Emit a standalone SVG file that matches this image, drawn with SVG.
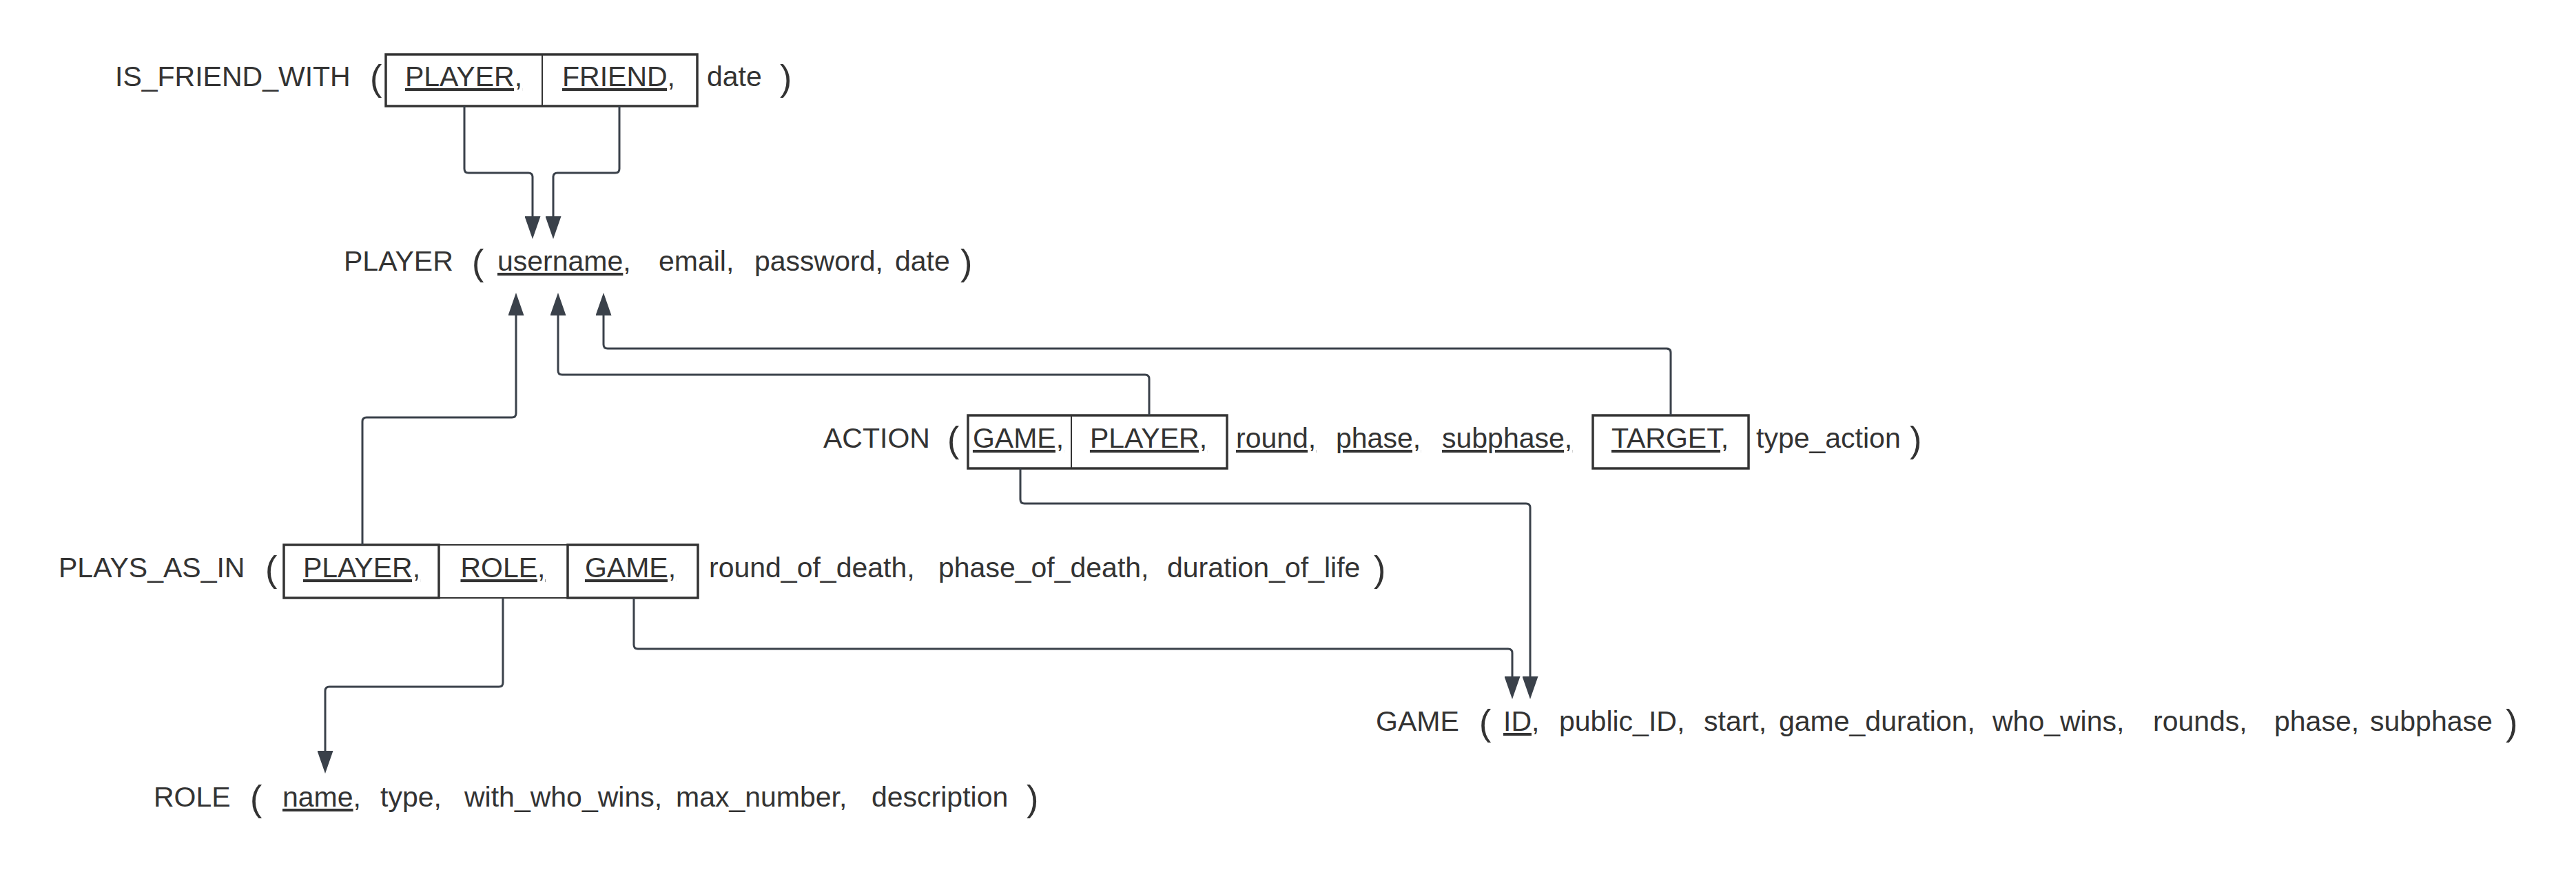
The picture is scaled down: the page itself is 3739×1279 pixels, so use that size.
<svg xmlns="http://www.w3.org/2000/svg" width="3739" height="1279" viewBox="0 0 3739 1279">
<style>
text{font-family:"Liberation Sans",Arial,sans-serif;font-size:41px;fill:#333333}
.p{font-size:52px}
.m{text-anchor:middle}
.u{text-decoration:underline}
.box{fill:none;stroke:#333333;stroke-width:3.5}
.div{fill:none;stroke:#333333;stroke-width:2}
.thin{fill:none;stroke:#333333;stroke-width:2}
.c{fill:none;stroke:#3a414a;stroke-width:3;marker-end:url(#ah)}
</style>
<defs>
<marker id="ah" markerUnits="userSpaceOnUse" viewBox="0 0 33 23" refX="0" refY="11.5" markerWidth="33" markerHeight="23" orient="auto">
<path d="M0,0 L33,11.5 L0,23 Z" fill="#3a414a"/>
</marker>
</defs>
<rect width="3739" height="1279" fill="#ffffff"/>

<g id="is_friend_with">
<text x="167" y="125">IS_FRIEND_WITH</text>
<text class="p" x="537" y="131">(</text>
<rect class="box" x="560" y="79" width="452" height="75"/>
<line class="div" x1="787" y1="79" x2="787" y2="154"/>
<text class="m u" x="673" y="125">PLAYER,</text>
<text class="m u" x="898" y="125">FRIEND,</text>
<text x="1026" y="125">date</text>
<text class="p" x="1132" y="131">)</text>
</g>

<g id="player">
<text x="499" y="393">PLAYER</text>
<text class="p" x="685" y="399">(</text>
<text x="722" y="393"><tspan class="u">username</tspan>,</text>
<text x="956" y="393">email,</text>
<text x="1095" y="393">password,</text>
<text x="1299" y="393">date</text>
<text class="p" x="1394" y="399">)</text>
</g>

<g id="action">
<text x="1195" y="650">ACTION</text>
<text class="p" x="1375" y="656">(</text>
<rect class="box" x="1405" y="603" width="376" height="77"/>
<line class="div" x1="1555" y1="603" x2="1555" y2="680"/>
<text class="m u" x="1478" y="650">GAME,</text>
<text class="m u" x="1667" y="650">PLAYER,</text>
<text class="u" x="1794" y="650">round,</text>
<text class="u" x="1939" y="650">phase,</text>
<text class="u" x="2093" y="650">subphase,</text>
<rect class="box" x="2312" y="603" width="226" height="77"/>
<text class="m u" x="2424" y="650">TARGET,</text>
<text x="2549" y="650">type_action</text>
<text class="p" x="2772" y="656">)</text>
</g>

<g id="plays_as_in">
<text x="85" y="838">PLAYS_AS_IN</text>
<text class="p" x="385" y="844">(</text>
<rect class="box" x="412" y="791" width="225" height="77"/>
<rect class="thin" x="637" y="791" width="187" height="77"/>
<rect class="box" x="824" y="791" width="189" height="77"/>
<text class="m u" x="525" y="838">PLAYER,</text>
<text class="m u" x="730" y="838">ROLE,</text>
<text class="m u" x="915" y="838">GAME,</text>
<text x="1029" y="838">round_of_death,</text>
<text x="1362" y="838">phase_of_death,</text>
<text x="1694" y="838">duration_of_life</text>
<text class="p" x="1994" y="844">)</text>
</g>

<g id="game">
<text x="1997" y="1061">GAME</text>
<text class="p" x="2147" y="1067">(</text>
<text x="2182" y="1061"><tspan class="u">ID</tspan>,</text>
<text x="2263" y="1061">public_ID,</text>
<text x="2473" y="1061">start,</text>
<text x="2582" y="1061">game_duration,</text>
<text x="2892" y="1061">who_wins,</text>
<text x="3125" y="1061">rounds,</text>
<text x="3301" y="1061">phase,</text>
<text x="3440" y="1061">subphase</text>
<text class="p" x="3637" y="1067">)</text>
</g>

<g id="role">
<text x="223" y="1171">ROLE</text>
<text class="p" x="363" y="1177">(</text>
<text x="410" y="1171"><tspan class="u">name</tspan>,</text>
<text x="552" y="1171">type,</text>
<text x="674" y="1171">with_who_wins,</text>
<text x="981" y="1171">max_number,</text>
<text x="1265" y="1171">description</text>
<text class="p" x="1490" y="1177">)</text>
</g>

<g id="connectors">
<path class="c" d="M674,154 V245 Q674,251 680,251 H767 Q773,251 773,257 V314"/>
<path class="c" d="M899,154 V245 Q899,251 893,251 H809 Q803,251 803,257 V314"/>
<path class="c" d="M526,791 V612 Q526,606 532,606 H743 Q749,606 749,600 V458"/>
<path class="c" d="M1668,603 V550 Q1668,544 1662,544 H816 Q810,544 810,538 V458"/>
<path class="c" d="M2425,603 V512 Q2425,506 2419,506 H882 Q876,506 876,500 V458"/>
<path class="c" d="M1481,680 V725 Q1481,731 1487,731 H2215 Q2221,731 2221,737 V982"/>
<path class="c" d="M920,868 V936 Q920,942 926,942 H2189 Q2195,942 2195,948 V982"/>
<path class="c" d="M730,868 V991 Q730,997 724,997 H478 Q472,997 472,1003 V1090"/>
</g>
</svg>
